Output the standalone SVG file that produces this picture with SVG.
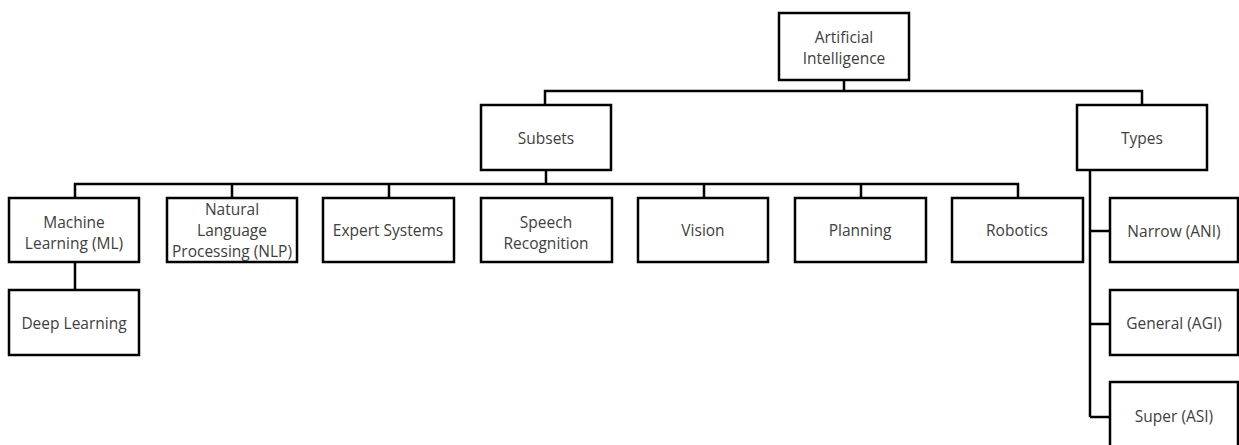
<svg xmlns="http://www.w3.org/2000/svg" width="1239" height="445" viewBox="0 0 1239 445">
<style>
.box{fill:#fff;stroke:#000;stroke-width:2.5}
.ln{fill:none;stroke:#000;stroke-width:2.5}
text{font-family:"Open Sans","Liberation Sans",Arial,sans-serif;font-size:15.5px;fill:#404040;text-anchor:middle;dominant-baseline:central}
</style>
<rect width="1239" height="445" fill="#fff"/>
<g id="connectors" class="ln">
<path d="M844 80V91M545 105V91H1142V105"/>
<path d="M546 170V184M75 198V184H1018V198M232 184V198M389 184V198M704 184V198M861 184V198"/>
<path d="M75 262V290"/>
<path d="M1090 170V417M1090 231H1110M1090 324H1110M1090 417H1110"/>
</g>
<g id="ai"><rect class="box" x="779" y="13" width="130" height="67"/><text x="844" y="37">Artificial</text><text x="844" y="58">Intelligence</text></g>
<g id="subsets"><rect class="box" x="481" y="105" width="130" height="65"/><text x="546" y="138">Subsets</text></g>
<g id="types"><rect class="box" x="1077" y="105" width="130" height="65"/><text x="1142" y="138">Types</text></g>
<g id="ml"><rect class="box" x="9" y="198" width="130" height="64"/><text x="74" y="222">Machine</text><text x="74" y="243">Learning (ML)</text></g>
<g id="nlp"><rect class="box" x="167" y="198" width="130" height="64"/><text x="232" y="209">Natural</text><text x="232" y="230">Language</text><text x="232" y="251">Processing (NLP)</text></g>
<g id="expert"><rect class="box" x="323" y="198" width="131" height="64"/><text x="388" y="230">Expert Systems</text></g>
<g id="speech"><rect class="box" x="481" y="198" width="131" height="64"/><text x="546" y="222">Speech</text><text x="546" y="243">Recognition</text></g>
<g id="vision"><rect class="box" x="638" y="198" width="130" height="64"/><text x="703" y="230">Vision</text></g>
<g id="planning"><rect class="box" x="795" y="198" width="131" height="64"/><text x="860" y="230">Planning</text></g>
<g id="robotics"><rect class="box" x="952" y="198" width="131" height="64"/><text x="1017" y="230">Robotics</text></g>
<g id="deep"><rect class="box" x="9" y="290" width="130" height="65"/><text x="74" y="323">Deep Learning</text></g>
<g id="narrow"><rect class="box" x="1110" y="198" width="128" height="64"/><text x="1174" y="231">Narrow (ANI)</text></g>
<g id="general"><rect class="box" x="1110" y="290" width="128" height="65"/><text x="1174" y="323">General (AGI)</text></g>
<g id="super"><rect class="box" x="1110" y="382" width="128" height="66"/><text x="1174" y="416">Super (ASI)</text></g>
</svg>
